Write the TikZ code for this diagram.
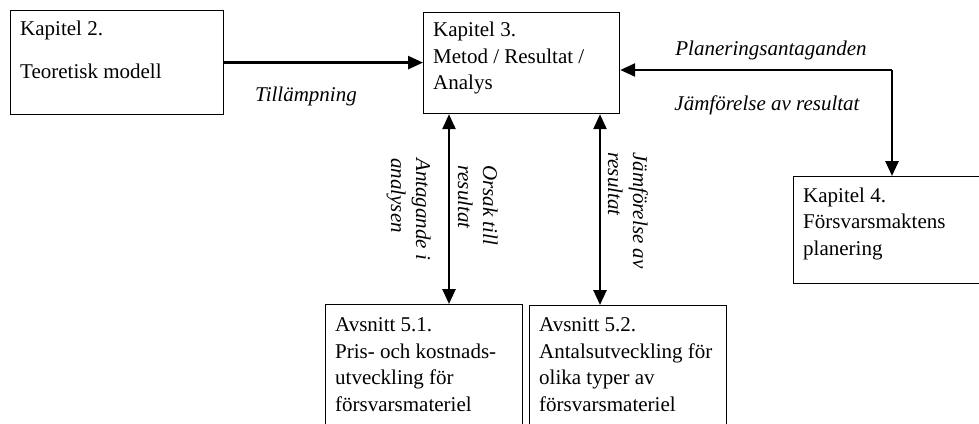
\documentclass[tikz,border=0pt]{standalone}
\usepackage{fontspec}
\setmainfont{Liberation Serif}
\usetikzlibrary{arrows.meta,calc}
\begin{document}
\begin{tikzpicture}[x=1pt,y=-1pt,
  box/.style={draw=black, line width=1.2pt, inner sep=0pt, anchor=north west},
  txt/.style={inner sep=0pt, anchor=north west, align=left, font=\fontsize{21}{26.5}\selectfont},
  lbl/.style={inner sep=0pt, font=\fontsize{21}{25}\selectfont\itshape},
  rlbl/.style={lbl, rotate=-90, anchor=north west, align=left},
  tip/.style={-{Triangle[length=15pt,width=13pt]}},
  arr/.style={line width=2.6pt, -{Triangle[length=15pt,width=13pt]}},
  darr/.style={line width=2.6pt, {Triangle[length=15pt,width=13pt]}-{Triangle[length=15pt,width=13pt]}},
]
\useasboundingbox (0,0) rectangle (979,423);
\fill[white] (0,0) rectangle (979,423);
\clip (0,0) rectangle (979,423);

% boxes
\node[box, minimum width=213pt, minimum height=104pt] (k2) at (10,10) {};
\node[box, minimum width=196pt, minimum height=101pt] (k3) at (423,12) {};
\node[box, minimum width=200pt, minimum height=107pt] (k4) at (793,176) {};
\node[box, minimum width=197pt, minimum height=140pt] (b51) at (325,304) {};
\node[box, minimum width=197pt, minimum height=140pt] (b52) at (529,305) {};

% box texts
\node[txt] (t2) at ($(k2.north west)+(10,10.5)$) {Kapitel 2.\\[16.5pt]Teoretisk modell};
\node[txt] (t3) at ($(k3.north west)+(10,10)$) {Kapitel 3.\\Metod / Resultat /\\Analys};
\node[txt] (t4) at ($(k4.north west)+(10,11.4)$) {Kapitel 4.\\Försvarsmaktens\\planering};
\node[txt] (t51) at ($(b51.north west)+(10,13.4)$) {Avsnitt 5.1.\\Pris- och kostnads-\\utveckling för\\försvarsmateriel};
\node[txt] (t52) at ($(b52.north west)+(10,12.4)$) {Avsnitt 5.2.\\Antalsutveckling för\\olika typer av\\försvarsmateriel};

% connectors
\draw[arr] (k2.east) -- (k2.east -| k3.west);

\coordinate (c) at (892,70);
\coordinate (m) at (892,128);
\draw[arr] (c) -- (c -| k3.east);
\draw[line width=1.3pt] (c) -- (m);
\draw[arr] (m) -- (m |- k4.north);

\coordinate (v1) at (449,0);
\coordinate (v2) at (600,0);
\draw[darr] (v1 |- k3.south) -- (v1 |- b51.north);
\draw[darr] (v2 |- k3.south) -- (v2 |- b52.north);

% labels
\node[lbl, anchor=base] (tl) at (306,101) {Tillämpning};
\node[lbl, anchor=base] (pl) at (771,55) {Planeringsantaganden};
\node[lbl, anchor=base] (jr) at (767,110) {Jämförelse av resultat};
\node[rlbl] (an) at (431,158) {Antagande i\\analysen};
\node[rlbl] (or) at (498,165) {Orsak till\\resultat};
\node[rlbl] (jm) at (648,152) {Jämförelse av\\resultat};
\end{tikzpicture}
\end{document}
